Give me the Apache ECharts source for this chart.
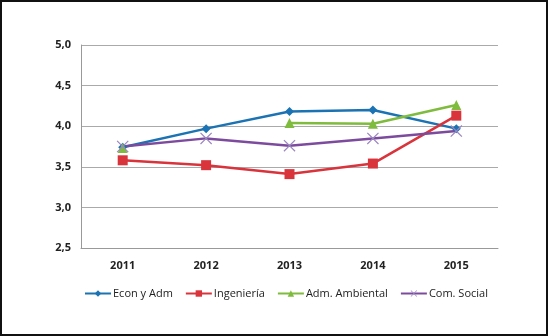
<!DOCTYPE html>
<html>
<head>
<meta charset="utf-8">
<script src="https://cdn.jsdelivr.net/npm/echarts@6/dist/echarts.min.js"></script>
<style>
  html, body { margin: 0; padding: 0; background: #fff; }
  #chart { width: 548px; height: 336px; box-sizing: border-box; border: 2px solid #111; }
</style>
</head>
<body>
<div id="chart"></div>
<script>
// datos
var years = ['2011', '2012', '2013', '2014', '2015'];
var econAdm = [3.74, 3.97, 4.18, 4.20, 3.97];
var ingenieria = [3.58, 3.52, 3.41, 3.54, 4.13];
var admAmbiental = [3.73, null, 4.04, 4.03, 4.26];
var comSocial = [3.75, 3.85, 3.76, 3.85, 3.94];

// marcador en forma de X (fino)
var xMark = 'path://M0,0.7L0.7,0L5,4.3L9.3,0L10,0.7L5.7,5L10,9.3L9.3,10L5,5.7L0.7,10L0,9.3L4.3,5Z';

var chart = echarts.init(document.getElementById('chart'));
function serie(name, data, color, symbol, size, markColor) {
    return {
        name: name,
        type: 'line',
        data: data,
        symbol: symbol,
        symbolSize: size,
        showSymbol: true,
        connectNulls: false,
        lineStyle: { color: color, width: 2.5 },
        itemStyle: { color: markColor || color },
        emphasis: { disabled: true }
    };
}
chart.setOption({
    animation: false,
    grid: { left: 79, right: 48, top: 43, bottom: 86 },
    legend: {
        bottom: 30,
        left: 77,
        itemWidth: 26,
        itemHeight: 8,
        itemGap: 12,
        textStyle: { fontFamily: 'Open Sans', fontSize: 11, color: '#222', padding: [0, 0, 0, -3] },
        data: ['Econ y Adm', 'Ingeniería', 'Adm. Ambiental', 'Com. Social']
    },
    xAxis: {
        type: 'category',
        data: years,
        boundaryGap: true,
        axisLine: { lineStyle: { color: '#999', width: 1 } },
        axisTick: { show: false },
        axisLabel: { color: '#222', fontFamily: 'Open Sans', fontWeight: 'bold', fontSize: 11, margin: 12 }
    },
    yAxis: {
        type: 'value',
        min: 2.5,
        max: 5,
        interval: 0.5,
        axisLine: { show: true, lineStyle: { color: '#999', width: 1 } },
        axisTick: { show: false },
        splitLine: { lineStyle: { color: '#aaa', width: 1 } },
        axisLabel: {
            color: '#222', fontFamily: 'Open Sans', fontWeight: 'bold', fontSize: 11, margin: 10,
            formatter: function (v) { return v.toFixed(1).replace('.', ','); }
        }
    },
    series: [
        serie('Econ y Adm', econAdm, '#1b73b3', 'diamond', 9),
        serie('Ingeniería', ingenieria, '#d9343c', 'rect', 10),
        serie('Adm. Ambiental', admAmbiental, '#7fbb3c', 'triangle', 10),
        serie('Com. Social', comSocial, '#7d4b9d', xMark, 12, '#9a86c0')
    ]
});
</script>
</body>
</html>
